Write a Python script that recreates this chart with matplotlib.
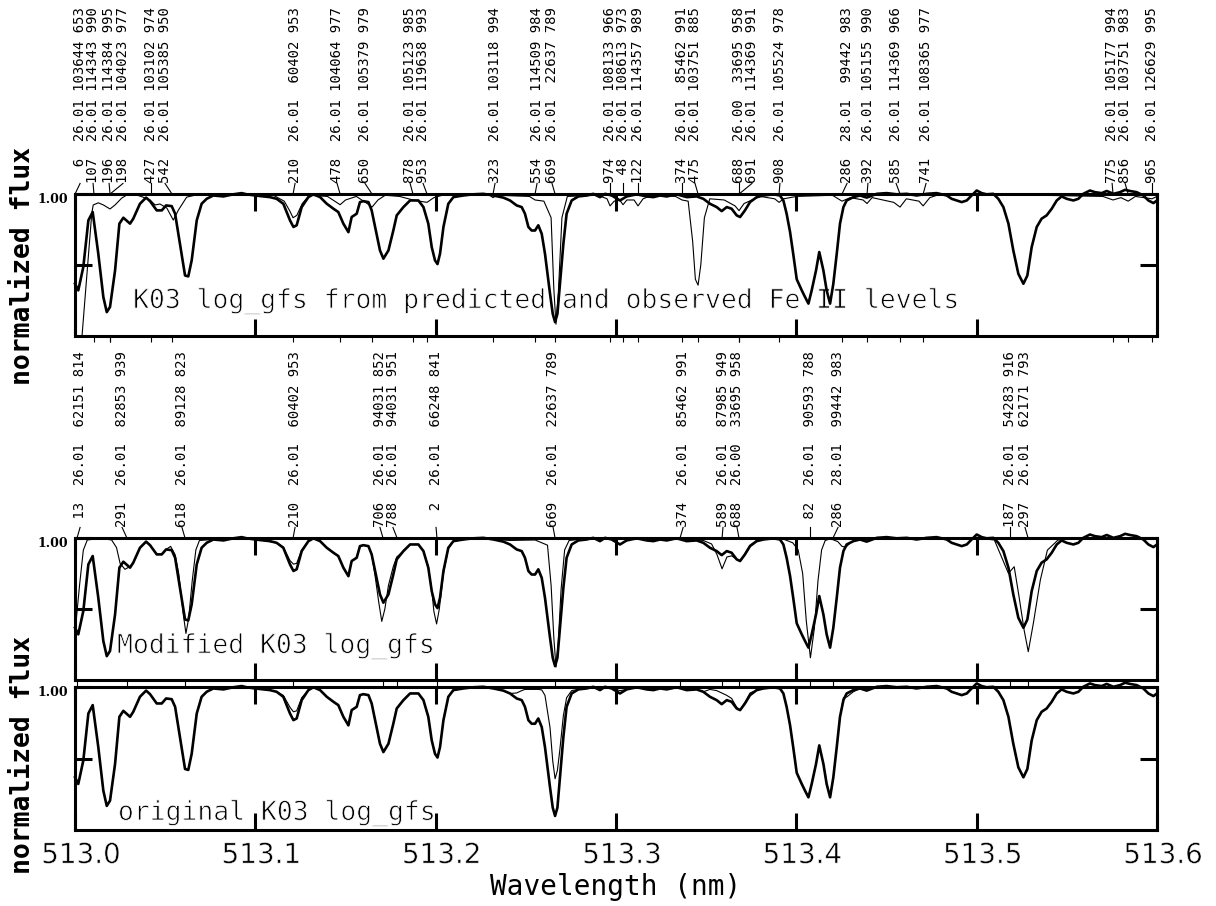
import matplotlib
matplotlib.use("Agg")
import matplotlib.pyplot as plt
import matplotlib.patheffects as pe
from matplotlib.transforms import ScaledTranslation, blended_transform_factory

# observed spectrum (thick line, same in all three panels)
wave_obs = [513.0000, 513.0018, 513.0046, 513.0074, 513.0098, 513.0129, 513.0157, 513.0176, 513.0194, 513.0222,
            513.0246, 513.0268, 513.0305, 513.0323, 513.0360, 513.0394, 513.0416, 513.0453, 513.0481, 513.0505,
            513.0536, 513.0555, 513.0582, 513.0610, 513.0628, 513.0647, 513.0675, 513.0702, 513.0730, 513.0767,
            513.0823, 513.0878, 513.0924, 513.0952, 513.0998, 513.1044, 513.1081, 513.1118, 513.1155, 513.1192,
            513.1211, 513.1229, 513.1257, 513.1294, 513.1322, 513.1359, 513.1396, 513.1433, 513.1460, 513.1488,
            513.1516, 513.1534, 513.1562, 513.1580, 513.1599, 513.1627, 513.1645, 513.1664, 513.1691, 513.1710,
            513.1738, 513.1765, 513.1784, 513.1821, 513.1858, 513.1904, 513.1932, 513.1959, 513.1978, 513.1996,
            513.2010, 513.2024, 513.2043, 513.2070, 513.2098, 513.2153, 513.2209, 513.2264, 513.2320, 513.2375,
            513.2412, 513.2449, 513.2477, 513.2495, 513.2514, 513.2532, 513.2551, 513.2569, 513.2588, 513.2606,
            513.2634, 513.2649, 513.2662, 513.2675, 513.2689, 513.2708, 513.2726, 513.2754, 513.2791, 513.2837,
            513.2874, 513.2911, 513.2939, 513.2976, 513.3022, 513.3059, 513.3115, 513.3170, 513.3207, 513.3244,
            513.3281, 513.3336, 513.3392, 513.3447, 513.3484, 513.3521, 513.3558, 513.3586, 513.3614, 513.3641,
            513.3669, 513.3688, 513.3715, 513.3743, 513.3780, 513.3817, 513.3873, 513.3909, 513.3928, 513.3946,
            513.3965, 513.3983, 513.4002, 513.4030, 513.4048, 513.4067, 513.4085, 513.4109, 513.4127, 513.4150,
            513.4168, 513.4187, 513.4205, 513.4224, 513.4242, 513.4261, 513.4279, 513.4316, 513.4353, 513.4390,
            513.4446, 513.4501, 513.4556, 513.4612, 513.4667, 513.4723, 513.4778, 513.4834, 513.4861, 513.4889,
            513.4917, 513.4945, 513.4972, 513.5000, 513.5028, 513.5055, 513.5092, 513.5120, 513.5148, 513.5176,
            513.5203, 513.5231, 513.5259, 513.5281, 513.5305, 513.5333, 513.5360, 513.5388, 513.5416, 513.5444,
            513.5471, 513.5499, 513.5536, 513.5564, 513.5591, 513.5628, 513.5656, 513.5693, 513.5721, 513.5758,
            513.5795, 513.5823, 513.5850, 513.5887, 513.5924, 513.5952, 513.5980, 513.6000]
flux_obs = [0.621, 0.593, 0.692, 0.889, 0.924, 0.748, 0.565, 0.501, 0.523, 0.677,
            0.875, 0.900, 0.875, 0.896, 0.959, 0.985, 0.970, 0.931, 0.931, 0.952,
            0.949, 0.917, 0.790, 0.656, 0.652, 0.720, 0.889, 0.959, 0.980, 0.994,
            0.990, 0.999, 1.004, 0.999, 0.994, 0.990, 0.987, 0.980, 0.959, 0.889,
            0.861, 0.868, 0.945, 0.987, 0.999, 0.987, 0.959, 0.938, 0.924, 0.875,
            0.839, 0.903, 0.917, 0.966, 0.970, 0.966, 0.931, 0.861, 0.762, 0.727,
            0.762, 0.846, 0.910, 0.945, 0.973, 0.973, 0.945, 0.875, 0.776, 0.720,
            0.704, 0.748, 0.861, 0.959, 0.987, 0.994, 0.999, 1.001, 0.994, 0.985,
            0.973, 0.952, 0.945, 0.917, 0.861, 0.846, 0.846, 0.868, 0.832, 0.748,
            0.579, 0.494, 0.459, 0.494, 0.621, 0.790, 0.917, 0.973, 0.990, 0.994,
            1.001, 0.987, 1.001, 0.994, 0.973, 0.990, 0.999, 0.990, 0.987, 0.994,
            0.990, 0.999, 0.987, 0.990, 0.980, 0.959, 0.945, 0.928, 0.945, 0.938,
            0.910, 0.903, 0.931, 0.966, 0.987, 0.994, 0.999, 0.994, 0.973, 0.917,
            0.840, 0.745, 0.640, 0.593, 0.565, 0.537, 0.593, 0.677, 0.755, 0.677,
            0.593, 0.537, 0.621, 0.748, 0.875, 0.945, 0.973, 0.987, 0.994, 0.985,
            1.001, 1.004, 0.999, 1.001, 0.994, 1.001, 1.004, 0.994, 0.980, 0.973,
            0.966, 0.973, 0.994, 1.015, 1.004, 0.999, 1.001, 0.980, 0.945, 0.875,
            0.762, 0.663, 0.621, 0.656, 0.776, 0.861, 0.896, 0.910, 0.938, 0.973,
            0.990, 0.980, 0.973, 0.980, 1.001, 1.015, 1.008, 1.004, 1.013, 1.001,
            1.008, 1.018, 1.013, 1.008, 0.994, 0.973, 0.962, 0.973]
# synthesis with the original K03 log_gfs (bottom panel, same grid as observed)
flux_orig = [0.621, 0.593, 0.692, 0.889, 0.924, 0.748, 0.565, 0.501, 0.523, 0.677,
             0.875, 0.900, 0.875, 0.896, 0.959, 0.985, 0.970, 0.931, 0.931, 0.952,
             0.949, 0.917, 0.790, 0.656, 0.652, 0.720, 0.889, 0.959, 0.980, 0.994,
             0.990, 0.999, 1.004, 0.999, 0.994, 0.990, 0.987, 0.980, 0.965, 0.915,
             0.896, 0.900, 0.955, 0.987, 0.999, 0.987, 0.959, 0.938, 0.924, 0.875,
             0.839, 0.903, 0.917, 0.966, 0.970, 0.966, 0.931, 0.861, 0.762, 0.727,
             0.762, 0.846, 0.910, 0.945, 0.973, 0.973, 0.945, 0.875, 0.776, 0.720,
             0.704, 0.748, 0.861, 0.959, 0.987, 0.994, 0.999, 1.001, 0.994, 0.985,
             0.973, 0.975, 0.985, 0.990, 0.990, 0.990, 0.990, 0.990, 0.988, 0.965,
             0.830, 0.690, 0.615, 0.650, 0.740, 0.880, 0.955, 0.985, 0.990, 0.994,
             1.001, 0.987, 1.001, 0.994, 0.985, 0.990, 0.999, 0.990, 0.987, 0.994,
             0.990, 0.999, 0.987, 0.990, 0.980, 0.990, 0.985, 0.975, 0.965, 0.952,
             0.915, 0.903, 0.935, 0.975, 0.987, 0.994, 0.999, 0.994, 0.973, 0.917,
             0.840, 0.745, 0.640, 0.593, 0.565, 0.537, 0.593, 0.677, 0.755, 0.677,
             0.593, 0.537, 0.621, 0.748, 0.875, 0.955, 0.958, 0.980, 0.994, 0.985,
             1.001, 1.004, 0.999, 1.001, 0.994, 1.001, 1.004, 0.994, 0.980, 0.973,
             0.966, 0.973, 0.994, 1.015, 1.004, 0.999, 1.001, 0.980, 0.945, 0.875,
             0.762, 0.663, 0.621, 0.656, 0.776, 0.861, 0.896, 0.910, 0.938, 0.973,
             0.990, 0.980, 0.973, 0.980, 1.001, 1.015, 1.008, 1.004, 1.013, 1.001,
             1.008, 1.018, 1.013, 1.008, 0.994, 0.973, 0.962, 0.973]

# synthesis with modified K03 log_gfs (middle panel)
wave_mod = [513.0000, 513.0025, 513.0046, 513.0068, 513.0139, 513.0203, 513.0230, 513.0250, 513.0277, 513.0305,
            513.0323, 513.0360, 513.0394, 513.0416, 513.0453, 513.0481, 513.0505, 513.0530, 513.0555, 513.0575,
            513.0600, 513.0615, 513.0630, 513.0650, 513.0670, 513.0690, 513.0767, 513.0878, 513.0952, 513.1044,
            513.1118, 513.1155, 513.1192, 513.1211, 513.1229, 513.1257, 513.1294, 513.1322, 513.1359, 513.1396,
            513.1433, 513.1460, 513.1488, 513.1516, 513.1534, 513.1562, 513.1580, 513.1599, 513.1627, 513.1645,
            513.1664, 513.1684, 513.1701, 513.1718, 513.1738, 513.1765, 513.1784, 513.1821, 513.1858, 513.1904,
            513.1932, 513.1959, 513.1978, 513.1990, 513.2005, 513.2020, 513.2043, 513.2070, 513.2098, 513.2209,
            513.2320, 513.2412, 513.2551, 513.2620, 513.2640, 513.2655, 513.2667, 513.2680, 513.2695, 513.2715,
            513.2740, 513.2874, 513.3000, 513.3100, 513.3200, 513.3300, 513.3400, 513.3484, 513.3530, 513.3560,
            513.3588, 513.3615, 513.3641, 513.3669, 513.3688, 513.3715, 513.3743, 513.3780, 513.3850, 513.3930,
            513.3980, 513.4010, 513.4035, 513.4055, 513.4078, 513.4100, 513.4120, 513.4140, 513.4160, 513.4190,
            513.4230, 513.4253, 513.4275, 513.4300, 513.4340, 513.4500, 513.4700, 513.4900, 513.5060, 513.5098,
            513.5137, 513.5176, 513.5208, 513.5235, 513.5263, 513.5286, 513.5314, 513.5353, 513.5392, 513.5451,
            513.5600, 513.5800, 513.6000]
flux_mod = [0.600, 0.800, 0.949, 0.992, 0.999, 0.992, 0.960, 0.893, 0.868, 0.880,
            0.896, 0.959, 0.985, 0.970, 0.931, 0.931, 0.952, 0.965, 0.930, 0.850,
            0.680, 0.597, 0.660, 0.820, 0.950, 0.990, 0.994, 0.999, 0.999, 0.990,
            0.980, 0.962, 0.905, 0.890, 0.893, 0.950, 0.987, 0.999, 0.987, 0.959,
            0.938, 0.924, 0.875, 0.839, 0.903, 0.917, 0.966, 0.970, 0.966, 0.930,
            0.840, 0.730, 0.648, 0.700, 0.800, 0.880, 0.920, 0.945, 0.973, 0.973,
            0.945, 0.880, 0.780, 0.690, 0.637, 0.700, 0.850, 0.955, 0.987, 0.999,
            0.994, 0.990, 0.992, 0.970, 0.800, 0.580, 0.455, 0.560, 0.780, 0.950,
            0.990, 1.000, 0.995, 0.998, 0.995, 0.997, 0.995, 0.990, 0.975, 0.930,
            0.870, 0.920, 0.925, 0.910, 0.903, 0.935, 0.970, 0.990, 0.998, 0.995,
            0.980, 0.950, 0.850, 0.650, 0.494, 0.620, 0.820, 0.950, 0.990, 0.997,
            0.985, 0.965, 0.962, 0.980, 0.995, 1.000, 1.000, 0.995, 0.995, 0.992,
            0.921, 0.851, 0.879, 0.752, 0.611, 0.520, 0.639, 0.823, 0.949, 0.992,
            1.000, 1.000, 0.995]

# synthesis with log_gfs from predicted and observed Fe II levels (top panel)
wave_pred = [513.0000, 513.0037, 513.0093, 513.0101, 513.0129, 513.0157, 513.0194, 513.0222, 513.0259, 513.0287,
             513.0342, 513.0377, 513.0416, 513.0444, 513.0471, 513.0509, 513.0545, 513.0573, 513.0619, 513.0693,
             513.0900, 513.1100, 513.1160, 513.1190, 513.1209, 513.1230, 513.1260, 513.1300, 513.1400, 513.1440,
             513.1470, 513.1500, 513.1560, 513.1620, 513.1647, 513.1680, 513.1720, 513.1800, 513.1874, 513.1910,
             513.1952, 513.1990, 513.2050, 513.2300, 513.2318, 513.2340, 513.2520, 513.2551, 513.2600, 513.2640,
             513.2655, 513.2667, 513.2680, 513.2700, 513.2730, 513.2900, 513.2950, 513.2967, 513.2990, 513.3020,
             513.3039, 513.3060, 513.3100, 513.3122, 513.3150, 513.3200, 513.3330, 513.3366, 513.3400, 513.3425,
             513.3440, 513.3455, 513.3470, 513.3490, 513.3520, 513.3600, 513.3660, 513.3682, 513.3710, 513.3754,
             513.3800, 513.3880, 513.3904, 513.3930, 513.4000, 513.4200, 513.4253, 513.4300, 513.4370, 513.4392,
             513.4420, 513.4540, 513.4575, 513.4610, 513.4680, 513.4703, 513.4740, 513.4800, 513.5000, 513.5700,
             513.5756, 513.5800, 513.5840, 513.5880, 513.5972, 513.6000]
flux_pred = [0.300, 0.383, 0.920, 0.954, 0.963, 0.954, 0.937, 0.954, 0.983, 0.996,
             0.996, 0.987, 0.975, 0.954, 0.958, 0.941, 0.890, 0.932, 0.987, 1.000,
             1.000, 0.995, 0.970, 0.930, 0.900, 0.910, 0.960, 0.995, 0.990, 0.970,
             0.955, 0.975, 0.990, 0.960, 0.945, 0.975, 0.995, 0.990, 0.975, 0.970,
             0.965, 0.985, 0.998, 0.995, 0.985, 0.995, 0.990, 0.975, 0.970, 0.900,
             0.600, 0.450, 0.580, 0.900, 0.990, 0.995, 0.980, 0.950, 0.970, 0.975,
             0.955, 0.975, 0.975, 0.950, 0.980, 0.995, 0.990, 0.975, 0.970, 0.800,
             0.640, 0.615, 0.700, 0.900, 0.980, 0.975, 0.950, 0.930, 0.960, 0.975,
             0.990, 0.980, 0.965, 0.980, 0.990, 0.995, 0.970, 0.985, 0.975, 0.960,
             0.985, 0.965, 0.945, 0.980, 0.970, 0.950, 0.985, 1.000, 1.000, 0.990,
             0.975, 0.985, 0.970, 0.990, 0.980, 0.990]

# line identifications, top panel
top_id = [6, 107, 196, 198, 427, 542, 210, 478, 650, 878, 953, 323, 554, 669, 974,
          48, 122, 374, 475, 688, 691, 908, 286, 392, 585, 741, 775, 856, 965]
top_elem = ["26.01", "26.01", "26.01", "26.01", "26.01", "26.01", "26.01", "26.01", "26.01", "26.01",
            "26.01", "26.01", "26.01", "26.01", "26.01", "26.01", "26.01", "26.01", "26.01", "26.00",
            "26.01", "26.01", "28.01", "26.01", "26.01", "26.01", "26.01", "26.01", "26.01"]
top_level = [103644, 114343, 114384, 104023, 103102, 105385, 60402, 104064, 105379, 105123,
             119638, 103118, 114509, 22637, 108133, 108613, 114357, 85462, 103751, 33695,
             114369, 105524, 99442, 105155, 114369, 108365, 105177, 103751, 126629]
top_resid = [653, 990, 995, 977, 974, 950, 953, 977, 979, 985, 993, 994, 984, 789, 966,
             973, 989, 991, 885, 958, 991, 978, 983, 990, 966, 977, 994, 983, 995]
top_wave = [513.0000, 513.0105, 513.0194, 513.0194, 513.0421, 513.0538, 513.1209, 513.1470, 513.1647, 513.1874,
            513.1952, 513.2318, 513.2551, 513.2662, 513.2967, 513.3039, 513.3122, 513.3366, 513.3455, 513.3682,
            513.3682, 513.3904, 513.4253, 513.4392, 513.4575, 513.4703, 513.5756, 513.5840, 513.5972]
top_label_at = [513.0028, 513.0100, 513.0189, 513.0266, 513.0421, 513.0499, 513.1220, 513.1453, 513.1608, 513.1858,
                513.1930, 513.2329, 513.2562, 513.2645, 513.2967, 513.3039, 513.3122, 513.3366, 513.3438, 513.3682,
                513.3754, 513.3909, 513.4281, 513.4397, 513.4553, 513.4719, 513.5751, 513.5823, 513.5972]

# line identifications, middle panel
mid_id = [13, 291, 618, 210, 706, 788, 2, 669, 374, 589, 688, 82, 286, 187, 297]
mid_elem = ["26.01", "26.01", "26.01", "26.01", "26.01", "26.01", "26.01", "26.01", "26.01", "26.01",
            "26.00", "26.01", "28.01", "26.01", "26.01"]
mid_level = [62151, 82853, 89128, 60402, 94031, 94031, 66248, 22637, 85462, 87985,
             33695, 90593, 99442, 54283, 62171]
mid_resid = [814, 939, 823, 953, 852, 951, 841, 789, 991, 949, 958, 788, 983, 916, 793]
mid_wave = [513.0011, 513.0288, 513.0610, 513.1209, 513.1708, 513.1786, 513.2007, 513.2662, 513.3355, 513.3588,
            513.3682, 513.4076, 513.4203, 513.5185, 513.5285]
mid_label_at = [513.0028, 513.0261, 513.0593, 513.1220, 513.1691, 513.1763, 513.2002, 513.2651, 513.3372, 513.3593,
                513.3671, 513.4076, 513.4231, 513.5185, 513.5268]

mono = "DejaVu Sans Mono"
# thin the glyphs slightly so they look more like the plain vector font
thin = [pe.Stroke(linewidth=0.6, foreground="white")]
thin_small = [pe.Stroke(linewidth=0.4, foreground="white")]

fig = plt.figure(figsize=(12.16, 9.06), dpi=100)
ax_top = fig.add_axes([0.0617, 0.6291, 0.8898, 0.1567])
ax_mid = fig.add_axes([0.0617, 0.2494, 0.8898, 0.1567])
ax_bot = fig.add_axes([0.0617, 0.0839, 0.8898, 0.1578])


def style_panel(ax):
    ax.set_xlim(513.0, 513.6)
    ax.set_ylim(0.4, 1.0)
    ax.set_xticks([513.0, 513.1, 513.2, 513.3, 513.4, 513.5, 513.6])
    ax.set_xticklabels(["513.0", "513.1", "513.2", "513.3", "513.4", "513.5", "513.6"])
    ax.set_yticks([0.7, 1.0])
    ax.set_yticklabels(["", "1.00"])
    for s in ax.spines.values():
        s.set_linewidth(2.2)
    ax.tick_params(axis="both", which="major", direction="in", length=12, width=2.2,
                   top=True, right=True)
    ax.tick_params(axis="x", labelsize=20, pad=8)
    ax.tick_params(axis="y", labelsize=9, pad=5)
    for lab in ax.get_yticklabels():
        lab.set_fontfamily("DejaVu Serif")
        lab.set_fontweight("bold")
        lab.set_transform(lab.get_transform() + ScaledTranslation(0, -0.04, fig.dpi_scale_trans))
    for lab in ax.get_xticklabels():
        lab.set_transform(lab.get_transform() + ScaledTranslation(0.06, 0, fig.dpi_scale_trans))
        lab.set_path_effects(thin_small)


def draw_ids(ax, line_w, label_w, ids, elem, level, resid):
    tr = blended_transform_factory(ax.transData, ax.transAxes)
    for lw, xw, i, e, lv, r in zip(line_w, label_w, ids, elem, level, resid):
        ax.plot([lw, xw], [1.0, 1.075], color="k", lw=0.8, transform=tr, clip_on=False)
        ax.text(xw, 1.077, f"{i:>3}  {e} {lv:>6} {r}", rotation=90, ha="center", va="bottom",
                transform=tr, fontsize=10, family=mono)
    ax.set_xticks(line_w, minor=True)
    ax.tick_params(axis="x", which="minor", direction="out", length=4, width=0.8,
                   bottom=True, top=False, labelbottom=False)


for ax in (ax_top, ax_mid, ax_bot):
    style_panel(ax)
    ax.plot(wave_obs, flux_obs, color="k", lw=1.9, zorder=3, clip_on=False)

ax_top.plot(wave_pred, flux_pred, color="k", lw=0.8, zorder=2)
ax_mid.plot(wave_mod, flux_mod, color="k", lw=0.8, zorder=2, clip_on=False)
ax_bot.plot(wave_obs, flux_orig, color="k", lw=0.8, zorder=2, clip_on=False)

ax_top.tick_params(axis="x", labelbottom=False)
ax_mid.tick_params(axis="x", labelbottom=False)

draw_ids(ax_top, top_wave, top_label_at, top_id, top_elem, top_level, top_resid)
draw_ids(ax_mid, mid_wave, mid_label_at, mid_id, mid_elem, mid_level, mid_resid)

panel_titles = [(ax_top, 513.0322, 0.197, "K03 log_gfs from predicted and observed Fe II levels"),
                (ax_mid, 513.0233, 0.19, "Modified K03 log_gfs"),
                (ax_bot, 513.0238, 0.07, "original K03 log_gfs")]
for ax, xw, yf, txt in panel_titles:
    ax.text(xw, yf, txt, transform=blended_transform_factory(ax.transData, ax.transAxes),
            fontsize=19, family=mono, va="baseline", zorder=1, path_effects=thin)

fig.text(0.019, 0.706, "normalized flux", rotation=90, ha="center", va="center",
         fontsize=19, family=mono, fontweight="bold")
fig.text(0.019, 0.167, "normalized flux", rotation=90, ha="center", va="center",
         fontsize=19, family=mono, fontweight="bold")
fig.text(0.506, 0.021, "Wavelength (nm)", ha="center", va="center", fontsize=20, family=mono)

fig.savefig("out.png", dpi=100)
